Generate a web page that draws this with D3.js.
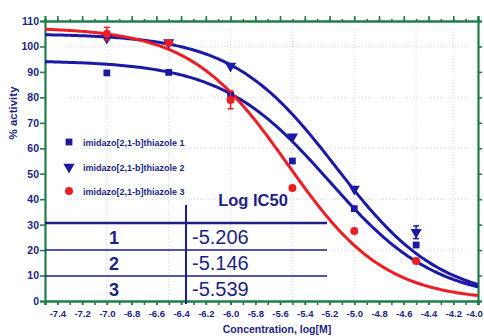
<!DOCTYPE html>
<html><head><meta charset="utf-8">
<script src="https://cdn.jsdelivr.net/npm/d3@7"></script>
<style>
html,body{margin:0;padding:0;background:#fff;}
svg{display:block;font-family:"Liberation Sans",Arial,sans-serif;}
</style></head>
<body><svg id="c" width="484" height="336"></svg>
<script>
// ---- data ----
const logConc = [-7.0, -6.5, -6.0, -5.5, -5.0, -4.5];
const seriesNames = ["imidazo[2,1-b]thiazole 1", "imidazo[2,1-b]thiazole 2", "imidazo[2,1-b]thiazole 3"];
const s1 = [89.6, 89.8, 81.0, 55.0, 36.3, 22.0];
const s2 = [103.3, 101.6, 92.3, 64.5, 44.0, 27.0];
const s3 = [105.0, 101.4, 79.0, 44.4, 27.5, 15.7];
const err1 = [0, 0, 0, 0, 0, 0];
const err2 = [0, 0, 0, 0, 0, 2.5];
const err3 = [2.5, 0, 3.5, 0, 0, 0];
// 4-parameter logistic fit parameters (curves)
const fitTop = [94.5, 105.0, 107.5];
const fitBottom = [0, 0, 0];
const fitHill = [1.0, 1.03, 1.1];
const logIC50 = [-5.206, -5.146, -5.539];
const tableRows = ["1", "2", "3"];
const xTicks = [-7.4,-7.2,-7.0,-6.8,-6.6,-6.4,-6.2,-6.0,-5.8,-5.6,-5.4,-5.2,-5.0,-4.8,-4.6,-4.4,-4.2,-4.0];
const yTicks = [0,10,20,30,40,50,60,70,80,90,100,110];

// ---- layout ----
const svg = d3.select("#c");
const L = 45, R = 478, T = 21, B = 301;
const x = d3.scaleLinear().domain([-7.5, -4.0]).range([L, R]);
const y = d3.scaleLinear().domain([0, 110]).range([B, T]);
const navy = "#1c1f86", green = "#1f7f4c", blue = "#1a1aa6", red = "#ee1d23";
const colors = [blue, blue, red];
const shapes = [d3.symbolSquare, d3.symbolTriangle, d3.symbolCircle];

// faint grid
const grid = svg.append("g").attr("stroke", "#b9c9bb").attr("stroke-width", 1).attr("stroke-dasharray", "1,2").attr("opacity", 0.7);
[-7.0,-6.5,-6.0,-5.5,-5.0,-4.5,-4.2].forEach(v => grid.append("line").attr("x1", x(v)).attr("x2", x(v)).attr("y1", T+8).attr("y2", B));
[20,40,60,80,100].forEach(v => grid.append("line").attr("x1", L+20).attr("x2", R-10).attr("y1", y(v)).attr("y2", y(v)));

// axes
const xMinor = d3.range(-7.5, -3.95, 0.1).map(v => +v.toFixed(2));
const gB = svg.append("g").attr("transform", `translate(0,${B})`)
  .call(d3.axisBottom(x).tickValues(xMinor).tickSize(4).tickFormat(""));
const gBl = svg.append("g").attr("transform", `translate(0,${B})`)
  .call(d3.axisBottom(x).tickValues(xTicks).tickSize(4).tickPadding(5).tickFormat(d => d.toFixed(1)));
gBl.selectAll("text").attr("fill", navy).attr("font-weight", "bold").attr("font-size", 9.5);
gBl.selectAll(".tick").filter(d => d === -4.0).select("text").attr("dx", -4);
const gT = svg.append("g").attr("transform", `translate(0,${T})`)
  .call(d3.axisTop(x).tickValues(xMinor).tickSize(2).tickFormat(""));
const gT2 = svg.append("g").attr("transform", `translate(0,${T})`)
  .call(d3.axisTop(x).tickValues(xTicks).tickSize(5).tickFormat(""));
const gL = svg.append("g").attr("transform", `translate(${L},0)`)
  .call(d3.axisLeft(y).tickValues(yTicks).tickSize(5).tickPadding(1));
gL.selectAll("text").attr("fill", navy).attr("font-weight", "bold").attr("font-size", 10.5);
const gR = svg.append("g").attr("transform", `translate(${R},0)`)
  .call(d3.axisRight(y).tickValues(yTicks).tickSize(4).tickFormat(""));
[gB, gBl, gT, gT2, gL, gR].forEach(g => {
  g.select(".domain").attr("stroke", green).attr("stroke-width", 2.2);
  g.selectAll(".tick line").attr("stroke", green).attr("stroke-width", 1.6);
});

// axis titles
svg.append("text").attr("x", 277).attr("y", 333).attr("text-anchor", "middle")
  .attr("fill", navy).attr("font-weight", "bold").attr("font-size", 10.5).text("Concentration, log[M]");
svg.append("text").attr("transform", "translate(17,113) rotate(-90)").attr("text-anchor", "middle")
  .attr("fill", navy).attr("font-weight", "bold").attr("font-size", 11.5).text("% activity");

// table
const tbl = svg.append("g").attr("stroke", navy);
tbl.append("line").attr("x1", L).attr("x2", 327).attr("y1", 223).attr("y2", 223).attr("stroke-width", 2.5);
tbl.append("line").attr("x1", L).attr("x2", 327).attr("y1", 250).attr("y2", 250).attr("stroke-width", 1.3);
tbl.append("line").attr("x1", L).attr("x2", 327).attr("y1", 276).attr("y2", 276).attr("stroke-width", 1.3);
tbl.append("line").attr("x1", 186).attr("x2", 186).attr("y1", 205).attr("y2", 304).attr("stroke-width", 2);
svg.append("text").attr("x", 253).attr("y", 206).attr("text-anchor", "middle").attr("fill", navy)
  .attr("font-weight", "bold").attr("font-size", 16.5).text("Log IC50");
const rowY = [244, 270, 296];
tableRows.forEach((r, i) => {
  svg.append("text").attr("x", 114).attr("y", rowY[i]).attr("text-anchor", "middle").attr("fill", navy)
    .attr("font-weight", "bold").attr("font-size", 18).text(r);
  svg.append("text").attr("x", 192).attr("y", rowY[i]).attr("fill", navy)
    .attr("font-size", 20).text(logIC50[i].toFixed(3));
});

// curves
const clip = svg.append("clipPath").attr("id", "pc").append("rect").attr("x", L).attr("y", T).attr("width", R-L).attr("height", B-T);
const xs = d3.range(-7.5, -3.999, 0.02);
const line = d3.line().x(d => x(d[0])).y(d => y(d[1]));
[0,1,2].forEach(i => {
  const pts = xs.map(v => [v, fitBottom[i] + (fitTop[i]-fitBottom[i]) / (1 + Math.pow(10, (v - logIC50[i]) * fitHill[i]))]);
  svg.append("path").attr("clip-path", "url(#pc)").attr("d", line(pts)).attr("fill", "none")
    .attr("stroke", colors[i]).attr("stroke-width", 3);
});

// points with error bars
const allS = [s1, s2, s3], allE = [err1, err2, err3];
const sizes = [46, 54, 50];
[0,1,2].forEach(i => {
  const g = svg.append("g");
  allS[i].forEach((v, j) => {
    const e = allE[i][j];
    if (e > 0) {
      g.append("line").attr("x1", x(logConc[j])).attr("x2", x(logConc[j])).attr("y1", y(v+e)).attr("y2", y(v-e)).attr("stroke", colors[i]).attr("stroke-width", 1.5);
      [v+e, v-e].forEach(w => g.append("line").attr("x1", x(logConc[j])-3).attr("x2", x(logConc[j])+3).attr("y1", y(w)).attr("y2", y(w)).attr("stroke", colors[i]).attr("stroke-width", 1.5));
    }
    g.append("path").attr("d", d3.symbol().type(shapes[i]).size(sizes[i])())
      .attr("transform", `translate(${x(logConc[j])},${y(v)})` + (i === 1 ? " rotate(180)" : ""))
      .attr("fill", colors[i]);
  });
});

// legend
const legY = [142, 167, 191];
seriesNames.forEach((n, i) => {
  svg.append("path").attr("d", d3.symbol().type(shapes[i]).size(sizes[i])())
    .attr("transform", `translate(69,${legY[i]})` + (i === 1 ? " rotate(180)" : "")).attr("fill", colors[i]);
  svg.append("text").attr("x", 83).attr("y", legY[i] + 3.5).attr("fill", navy)
    .attr("font-weight", "bold").attr("font-size", 9).text(n);
});
</script></body></html>
